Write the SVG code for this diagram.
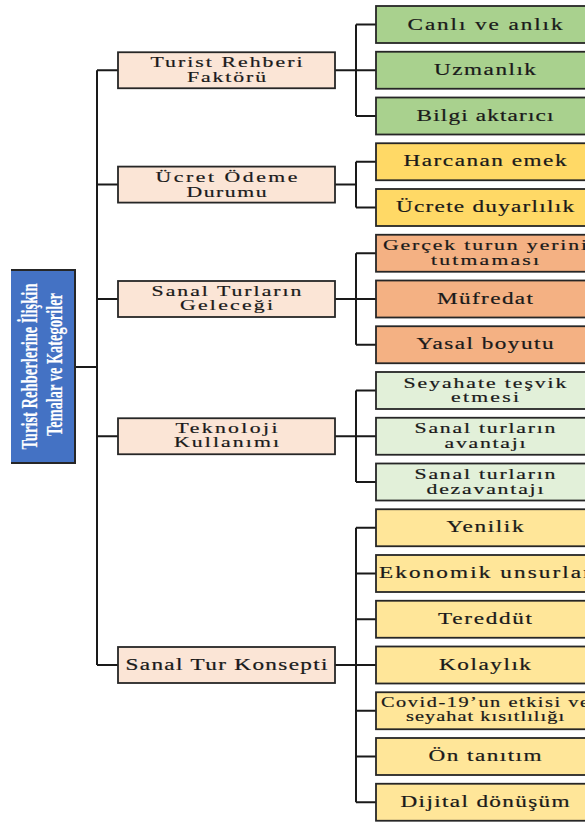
<svg xmlns="http://www.w3.org/2000/svg" width="585" height="822" viewBox="0 0 585 822">
<style>
.box{stroke:#262626;stroke-width:1.8}
.mid{fill:#FBE5D6}
.g1{fill:#A9D18E}
.g2{fill:#FFD966}
.g3{fill:#F4B183}
.g4{fill:#E2F0D9}
.g5{fill:#FFE699}
text{font-family:"Liberation Serif","Times New Roman",serif;font-size:16px;fill:#1a1a1a;stroke:#1a1a1a;stroke-width:0.2;text-anchor:middle}
.t2{font-size:15px}
.sm{font-size:14px}
.root{font-weight:bold;font-size:24px;fill:#ffffff;stroke:#ffffff;stroke-width:0.2}
.con{fill:none;stroke:#1a1a1a;stroke-width:2}
</style>
<rect width="585" height="822" fill="#ffffff"/>
<g id="connectors" class="con">
<path d="M76,367H97M97,70.25V665M97,70.25H118M97,184.6H118M97,299H118M97,436.25H118M97,665H118"/>
<path d="M335,70.25H356M356,24.5V116M356,24.5H376M356,70.25H376M356,116H376"/>
<path d="M335,184.6H356M356,161.75V207.5M356,161.75H376M356,207.5H376"/>
<path d="M335,299H356M356,253.25V344.75M356,253.25H376M356,299H376M356,344.75H376"/>
<path d="M335,436.25H356M356,390.5V482M356,390.5H376M356,436.25H376M356,482H376"/>
<path d="M335,665H356M356,527.75V802.25M356,527.75H376M356,573.5H376M356,619.25H376M356,665H376M356,710.75H376M356,756.5H376M356,802.25H376"/>
</g>
<g id="root">
<rect x="11" y="270" width="64" height="193" fill="#4472C4"/>
<path d="M11,270H75V463H11" fill="none" stroke="#262626" stroke-width="2"/>
<text class="root" transform="translate(37,366.5) rotate(-90)" textLength="166" lengthAdjust="spacingAndGlyphs">Turist Rehberlerine İlişkin</text>
<text class="root" transform="translate(62,364.5) rotate(-90)" textLength="143" lengthAdjust="spacingAndGlyphs">Temalar ve Kategoriler</text>
</g>
<g id="theme-turist-rehberi">
<rect class="box mid" x="118" y="52.25" width="217" height="36"/>
<text class="t2" transform="translate(226.5,67) scale(1.45 1)" textLength="104.8" lengthAdjust="spacing">Turist Rehberi</text>
<text class="t2" transform="translate(226.5,81.5) scale(1.45 1)" textLength="54.5" lengthAdjust="spacing">Faktörü</text>
</g>
<g id="theme-ucret">
<rect class="box mid" x="118" y="166.6" width="217" height="36"/>
<text class="t2" transform="translate(226.5,181.5) scale(1.45 1)" textLength="97.9" lengthAdjust="spacing">Ücret Ödeme</text>
<text class="t2" transform="translate(226.5,196.5) scale(1.45 1)" textLength="55.2" lengthAdjust="spacing">Durumu</text>
</g>
<g id="theme-sanal-gelecek">
<rect class="box mid" x="118" y="281" width="217" height="36"/>
<text class="t2" transform="translate(226.5,295.5) scale(1.45 1)" textLength="103.4" lengthAdjust="spacing">Sanal Turların</text>
<text class="t2" transform="translate(226.5,310) scale(1.45 1)" textLength="64.1" lengthAdjust="spacing">Geleceği</text>
</g>
<g id="theme-teknoloji">
<rect class="box mid" x="118" y="418.25" width="217" height="36"/>
<text class="t2" transform="translate(226.5,432.5) scale(1.45 1)" textLength="70.3" lengthAdjust="spacing">Teknoloji</text>
<text class="t2" transform="translate(226.5,447) scale(1.45 1)" textLength="72.4" lengthAdjust="spacing">Kullanımı</text>
</g>
<g id="theme-sanal-tur">
<rect class="box mid" x="118" y="647" width="217" height="36"/>
<text transform="translate(226.5,669.5) scale(1.45 1)" textLength="139.3" lengthAdjust="spacing">Sanal Tur Konsepti</text>
</g>
<g id="cat-canli">
<rect class="box g1" x="376" y="6" width="220" height="37"/>
<text transform="translate(485,29.5) scale(1.45 1)" textLength="106.9" lengthAdjust="spacing">Canlı ve anlık</text>
</g>
<g id="cat-uzmanlik">
<rect class="box g1" x="376" y="51.75" width="220" height="37"/>
<text transform="translate(485,75) scale(1.45 1)" textLength="70.3" lengthAdjust="spacing">Uzmanlık</text>
</g>
<g id="cat-bilgi">
<rect class="box g1" x="376" y="97.5" width="220" height="37"/>
<text transform="translate(485,120.5) scale(1.45 1)" textLength="94.5" lengthAdjust="spacing">Bilgi aktarıcı</text>
</g>
<g id="cat-harcanan">
<rect class="box g2" x="376" y="143.25" width="220" height="37"/>
<text transform="translate(485,166.25) scale(1.45 1)" textLength="112.4" lengthAdjust="spacing">Harcanan emek</text>
</g>
<g id="cat-ucrete">
<rect class="box g2" x="376" y="189" width="220" height="37"/>
<text transform="translate(485,212) scale(1.45 1)" textLength="122.8" lengthAdjust="spacing">Ücrete duyarlılık</text>
</g>
<g id="cat-gercek">
<rect class="box g3" x="376" y="234.75" width="220" height="37"/>
<text class="t2" transform="translate(485,250.25) scale(1.45 1)" textLength="140.7" lengthAdjust="spacing">Gerçek turun yerini</text>
<text class="t2" transform="translate(485,264.5) scale(1.45 1)" textLength="74.5" lengthAdjust="spacing">tutmaması</text>
</g>
<g id="cat-mufredat">
<rect class="box g3" x="376" y="280.5" width="220" height="37"/>
<text transform="translate(485,303.5) scale(1.45 1)" textLength="66.2" lengthAdjust="spacing">Müfredat</text>
</g>
<g id="cat-yasal">
<rect class="box g3" x="376" y="326.25" width="220" height="37"/>
<text transform="translate(485,349.25) scale(1.45 1)" textLength="94.5" lengthAdjust="spacing">Yasal boyutu</text>
</g>
<g id="cat-seyahate">
<rect class="box g4" x="376" y="372" width="220" height="37"/>
<text class="t2" transform="translate(485,387.5) scale(1.45 1)" textLength="112.4" lengthAdjust="spacing">Seyahate teşvik</text>
<text class="t2" transform="translate(485,402) scale(1.45 1)" textLength="46.9" lengthAdjust="spacing">etmesi</text>
</g>
<g id="cat-avantaj">
<rect class="box g4" x="376" y="417.75" width="220" height="37"/>
<text class="t2" transform="translate(485,433.25) scale(1.45 1)" textLength="97.2" lengthAdjust="spacing">Sanal turların</text>
<text class="t2" transform="translate(485,447.75) scale(1.45 1)" textLength="55.9" lengthAdjust="spacing">avantajı</text>
</g>
<g id="cat-dezavantaj">
<rect class="box g4" x="376" y="463.5" width="220" height="37"/>
<text class="t2" transform="translate(485,479) scale(1.45 1)" textLength="97.2" lengthAdjust="spacing">Sanal turların</text>
<text class="t2" transform="translate(485,493.5) scale(1.45 1)" textLength="80.7" lengthAdjust="spacing">dezavantajı</text>
</g>
<g id="cat-yenilik">
<rect class="box g5" x="376" y="509.25" width="220" height="37"/>
<text transform="translate(485,532.25) scale(1.45 1)" textLength="53.1" lengthAdjust="spacing">Yenilik</text>
</g>
<g id="cat-ekonomik">
<rect class="box g5" x="376" y="555" width="220" height="37"/>
<text transform="translate(485,578) scale(1.45 1)" textLength="146.2" lengthAdjust="spacing">Ekonomik unsurlar</text>
</g>
<g id="cat-tereddut">
<rect class="box g5" x="376" y="600.75" width="220" height="37"/>
<text transform="translate(485,623.75) scale(1.45 1)" textLength="64.8" lengthAdjust="spacing">Tereddüt</text>
</g>
<g id="cat-kolaylik">
<rect class="box g5" x="376" y="646.5" width="220" height="37"/>
<text transform="translate(485,669.5) scale(1.45 1)" textLength="63.4" lengthAdjust="spacing">Kolaylık</text>
</g>
<g id="cat-covid">
<rect class="box g5" x="376" y="692.25" width="220" height="37"/>
<text class="sm" transform="translate(485,706.5) scale(1.45 1)" textLength="143.4" lengthAdjust="spacing">Covid-19’un etkisi ve</text>
<text class="sm" transform="translate(485,720.5) scale(1.45 1)" textLength="109" lengthAdjust="spacing">seyahat kısıtlılığı</text>
</g>
<g id="cat-on-tanitim">
<rect class="box g5" x="376" y="738" width="220" height="37"/>
<text transform="translate(485,761) scale(1.45 1)" textLength="77.9" lengthAdjust="spacing">Ön tanıtım</text>
</g>
<g id="cat-dijital">
<rect class="box g5" x="376" y="783.75" width="220" height="37"/>
<text transform="translate(485,806.75) scale(1.45 1)" textLength="116.6" lengthAdjust="spacing">Dijital dönüşüm</text>
</g>
</svg>
